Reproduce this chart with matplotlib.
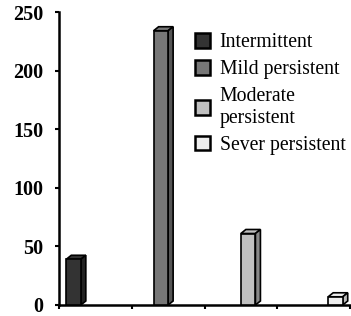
import matplotlib
matplotlib.use("Agg")
import matplotlib.pyplot as plt
from matplotlib.patches import Polygon, Patch

series = ["Intermittent", "Mild persistent", "Moderate\npersistent", "Sever persistent"]
values = [39, 234, 61, 7]
colors = ["#333333", "#777777", "#c0c0c0", "#eeeeee"]
side_colors = ["#222222", "#555555", "#888888", "#bbbbbb"]
yticks = [0, 50, 100, 150, 200, 250]

plt.rcParams['font.family'] = ['Liberation Serif', 'DejaVu Serif']

fig = plt.figure(figsize=(3.51, 3.16), dpi=100)
ax = fig.add_axes([59/351, 11/316, 291/351, 293/316])

n = len(series)
w = 0.2
# depth in data units
dx = 5 / 72.75
dy = 4 / 1.168
for i, (v, c, sc) in enumerate(zip(values, colors, side_colors)):
    x = i + (i - (n - 1) / 2) * w
    x0, x1 = x - w / 2, x + w / 2
    ax.bar(x, v, width=w, color=c, edgecolor="black", linewidth=1.2, zorder=3)
    top = Polygon([(x0, v), (x0 + dx, v + dy), (x1 + dx, v + dy), (x1, v)],
                  closed=True, facecolor=c, edgecolor="black", linewidth=1.2, zorder=2, clip_on=False)
    side = Polygon([(x1, 0), (x1 + dx, dy), (x1 + dx, v + dy), (x1, v)],
                   closed=True, facecolor=sc, edgecolor="black", linewidth=1.2, zorder=2, clip_on=False)
    ax.add_patch(top)
    ax.add_patch(side)

ax.set_xlim(-0.5, n - 0.5)
ax.set_ylim(0, 250)
ax.set_yticks(yticks)
ax.set_yticklabels([str(t) for t in yticks], fontsize=14.5, fontweight="bold")
ax.set_xticks([k - 0.5 for k in range(n + 1)])
ax.set_xticklabels([])
ax.tick_params(axis="both", direction="out", length=3, width=1.5, pad=8)
for s in ["top", "right"]:
    ax.spines[s].set_visible(False)
for s in ["left", "bottom"]:
    ax.spines[s].set_linewidth(1.8)

handles = [Patch(facecolor=c, edgecolor="black", linewidth=1.8) for c in colors]
ax.legend(handles, series, loc="upper left", bbox_to_anchor=(0.44, 0.955), frameon=False,
          fontsize=14.2, handlelength=0.75, handleheight=0.75, handletextpad=0.5,
          labelspacing=0.4, borderaxespad=0)

fig.savefig("out.png", dpi=100)
